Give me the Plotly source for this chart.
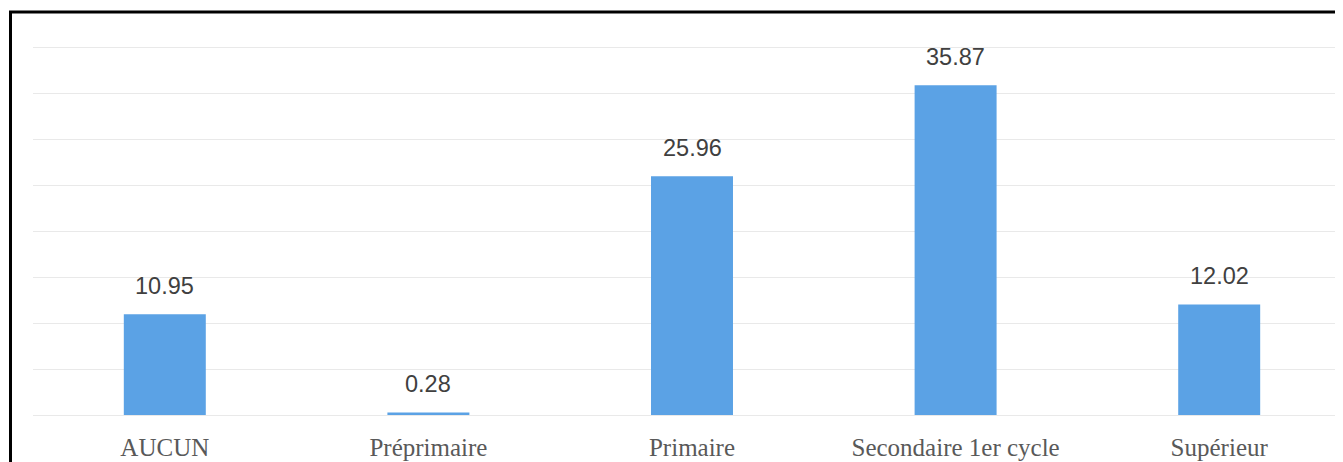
import plotly.graph_objects as go

categories = ["AUCUN", "Préprimaire", "Primaire", "Secondaire 1er cycle", "Supérieur"]
values = [10.95, 0.28, 25.96, 35.87, 12.02]
value_labels = ["10.95", "0.28", "25.96", "35.87", "12.02"]

W, H = 1343, 462
ml, mt, mb = 25, 30, 55
plot_w = W - ml
plot_h = H - mt - mb

fig = go.Figure()
fig.add_trace(go.Bar(
    x=categories, y=values,
    marker=dict(color="#5BA2E5", line=dict(width=0)),
    width=0.311,
    hoverinfo="skip",
))

for c, v, t in zip(categories, values, value_labels):
    fig.add_annotation(x=c, y=v, text=t, showarrow=False, yanchor="bottom",
                       yshift=13, font=dict(family="Liberation Sans", size=23.5, color="#404040"))

# border frame (top and left visible; right/bottom outside the page)
bx = (2.5 - ml) / plot_w
by = (H - mb - 4) / plot_h
fig.add_shape(type="rect", xref="paper", yref="paper",
              x0=bx, x1=1.2, y0=-0.5, y1=by,
              line=dict(color="black", width=3), layer="above")

fig.update_layout(
    width=W, height=H,
    margin=dict(l=ml, r=0, t=mt, b=mb, pad=0),
    paper_bgcolor="white", plot_bgcolor="white",
    showlegend=False,
    xaxis=dict(range=[-0.5, 4.5], showgrid=False, zeroline=False, showline=False,
               ticks="", ticklabelstandoff=15,
               tickfont=dict(family="Liberation Serif", size=25, color="#595959")),
    yaxis=dict(range=[0, 41], tickvals=[0, 5, 10, 15, 20, 25, 30, 35, 40],
               showgrid=True, gridcolor="#E9E9E9", gridwidth=1.3,
               zeroline=True, zerolinecolor="#E9E9E9", zerolinewidth=1.3,
               showticklabels=False, ticks="", showline=False),
)

fig.write_html("out.html")
